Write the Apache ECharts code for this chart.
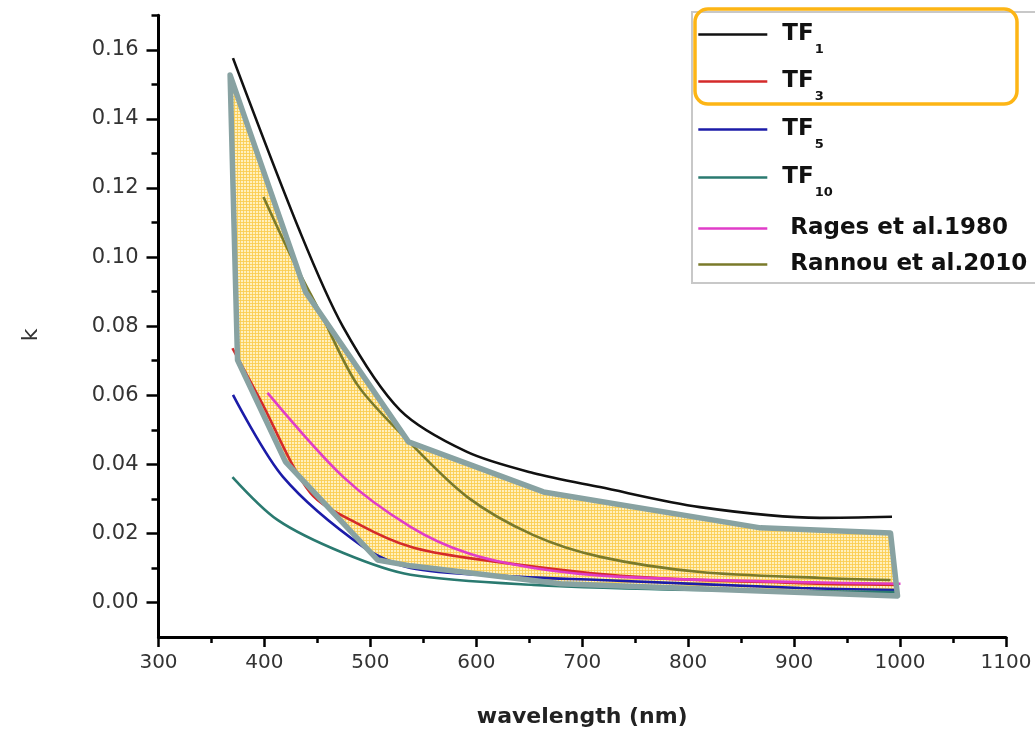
<!DOCTYPE html>
<html>
<head>
<meta charset="utf-8">
<script src="https://cdn.jsdelivr.net/npm/echarts@6/dist/echarts.min.js"></script>
<style>
html,body{margin:0;padding:0;background:#fff;}
#chart{width:1035px;height:730px;}
</style>
</head>
<body>
<div id="chart"></div>
<script>
// ---- data ----
const seriesNames = ['TF1', 'TF3', 'TF5', 'TF10', 'Rages et al.1980', 'Rannou et al.2010'];

const tf1Wavelength = [370.3, 433.6, 474.2, 528.0, 591.2, 653.5, 716.7, 811.1, 924.4, 992.4];
const tf1K          = [0.1576, 0.1073, 0.0798, 0.0557, 0.0436, 0.0375, 0.0334, 0.0276, 0.0245, 0.0248];

const tf3Wavelength = [369.8, 396.2, 443.4, 490.6, 537.9, 591.6, 736.1, 906.0, 998.5];
const tf3K          = [0.0736, 0.0586, 0.0317, 0.0224, 0.0161, 0.0129, 0.0077, 0.0056, 0.0051];

const tf5Wavelength = [370.3, 417.7, 493.2, 537.9, 622.8, 716.7, 906.0, 998.5];
const tf5K          = [0.0601, 0.0363, 0.0161, 0.0100, 0.0077, 0.0065, 0.0042, 0.0036];

const tf10Wavelength = [369.8, 412.3, 474.6, 537.9, 653.9, 811.1, 998.5];
const tf10K          = [0.0363, 0.0239, 0.0143, 0.0080, 0.0051, 0.0036, 0.0030];

const ragesWavelength = [402.9, 474.6, 537.9, 591.6, 653.9, 736.1, 906.0, 1000.4];
const ragesK          = [0.0607, 0.0363, 0.0219, 0.0143, 0.0100, 0.0074, 0.0059, 0.0054];

const rannouWavelength = [399.1, 424.6, 452.9, 487.8, 535.0, 591.6, 653.9, 717.2, 811.6, 924.9, 991.0];
const rannouK          = [0.1174, 0.1006, 0.0838, 0.0630, 0.0470, 0.0305, 0.0195, 0.0132, 0.0088, 0.0071, 0.0065];

// highlighted envelope polygon
const polyWavelength = [367.6, 438.8, 536.0, 663.4, 868.3, 991.0, 997.6, 679.5, 537.9, 506.8, 419.9, 374.6];
const polyK          = [0.1527, 0.0899, 0.0465, 0.0320, 0.0216, 0.0201, 0.0019, 0.0054, 0.0106, 0.0123, 0.0407, 0.0702];

const yMajorTicks = [0, 0.02, 0.04, 0.06, 0.08, 0.10, 0.12, 0.14, 0.16];
const yMinorTicks = [0.01, 0.03, 0.05, 0.07, 0.09, 0.11, 0.13, 0.15, 0.17];

// ---- styling ----
const colors = ['#111111', '#d42a2a', '#1c1ca8', '#2a7a70', '#e03cc8', '#7a7a2a'];
const legendColors = ['#111111', '#b8283a', '#2020a0', '#306860', '#d040c0', '#6a7040'];
const allX = [tf1Wavelength, tf3Wavelength, tf5Wavelength, tf10Wavelength, ragesWavelength, rannouWavelength];
const allY = [tf1K, tf3K, tf5K, tf10K, ragesK, rannouK];

// hatch pattern
const pc = document.createElement('canvas');
pc.width = 3; pc.height = 3;
const pctx = pc.getContext('2d');
pctx.fillStyle = 'rgba(255,240,190,1)';
pctx.fillRect(0, 0, 3, 3);
pctx.fillStyle = 'rgba(250,205,80,0.85)';
pctx.fillRect(0, 0, 3, 1);
pctx.fillRect(0, 0, 1, 3);
const hatch = { image: pc, repeat: 'repeat' };

const chart = echarts.init(document.getElementById('chart'));

const lineSeries = seriesNames.map((name, i) => ({
  name: name,
  type: 'line',
  data: allX[i].map((x, j) => [x, allY[i][j]]),
  symbol: 'none',
  showSymbol: false,
  smooth: 0.3,
  color: legendColors[i],
  lineStyle: { color: colors[i], width: 2.6 },
  z: 3
}));

const legendLineY = [34, 81, 129, 177, 227, 263];
const legends = seriesNames.map((name, i) => {
  const isTF = name.startsWith('TF');
  return {
    data: [name],
    orient: 'vertical',
    left: 697,
    top: legendLineY[i] - (isTF ? 21 : 10),
    padding: 0,
    itemWidth: 69,
    itemHeight: 14,
    selectedMode: false,
    itemStyle: { opacity: 0 },
    lineStyle: { width: 2.6 },
    formatter: n => n.startsWith('TF') ? 'TF{s|' + n.slice(2) + '}' : ' ' + n,
    textStyle: {
      fontFamily: 'DejaVu Sans',
      fontWeight: 'bold',
      fontSize: 23,
      color: '#111',
      padding: [0, 0, 0, 10],
      rich: {
        s: { fontFamily: 'DejaVu Sans', fontWeight: 'bold', fontSize: 13, lineHeight: 13, padding: [30, 0, 0, 1], color: '#111' }
      }
    }
  };
});

const polyData = polyWavelength.map((x, i) => [x, polyK[i]]);
function polyRenderer(fill, stroke) {
  return (params, api) => {
    if (params.dataIndex !== 0) return null;
    const pts = polyWavelength.map((x, i) => api.coord([x, polyK[i]]));
    return {
      type: 'polygon',
      shape: { points: pts },
      style: stroke
        ? { fill: 'none', stroke: '#88a2a2', lineWidth: 5.5, lineJoin: 'round' }
        : { fill: fill }
    };
  };
}

const option = {
  animation: false,
  backgroundColor: '#ffffff',
  grid: { left: 158.5, right: 29, top: 15.3, bottom: 93, containLabel: false, outerBoundsMode: 'none' },
  legend: legends,
  xAxis: {
    type: 'value',
    min: 300, max: 1100, interval: 100,
    name: 'wavelength (nm)',
    nameLocation: 'middle',
    nameGap: 69,
    nameTextStyle: { fontFamily: 'DejaVu Sans', fontWeight: 'bold', fontSize: 22, color: '#222' },
    axisLine: { onZero: false, lineStyle: { color: '#000', width: 3 } },
    axisTick: { length: 10, lineStyle: { color: '#000', width: 2.5 } },
    minorTick: { show: true, splitNumber: 2, length: 6, lineStyle: { color: '#000', width: 2.5 } },
    axisLabel: { margin: 16, fontFamily: 'DejaVu Sans', fontSize: 20, color: '#333', formatter: v => String(v) },
    splitLine: { show: false }
  },
  yAxis: [
    {
      type: 'value',
      min: -0.01, max: 0.17,
      axisLine: { onZero: false, lineStyle: { color: '#000', width: 3 } },
      axisTick: { customValues: yMajorTicks, length: 12, lineStyle: { color: '#000', width: 2.5 } },
      axisLabel: { customValues: yMajorTicks, margin: 20, fontFamily: 'DejaVu Sans', fontSize: 21, color: '#333',
                   formatter: v => v.toFixed(2) },
      splitLine: { show: false }
    },
    {
      type: 'value',
      min: -0.01, max: 0.17,
      position: 'left',
      axisLine: { show: false },
      axisTick: { customValues: yMinorTicks, length: 7, lineStyle: { color: '#000', width: 2.5 } },
      axisLabel: { show: false },
      splitLine: { show: false }
    }
  ],
  series: [{
    name: 'envelope-fill',
    type: 'custom',
    data: polyData,
    encode: { x: 0, y: 1 },
    z: 1,
    renderItem: polyRenderer(hatch, false)
  }].concat(lineSeries).concat([{
    name: 'envelope-border',
    type: 'custom',
    data: polyData,
    encode: { x: 0, y: 1 },
    z: 5,
    renderItem: polyRenderer(null, true)
  }]),
  graphic: [
    { type: 'text', x: 31, y: 335, rotation: Math.PI / 2,
      style: { text: 'k', fontFamily: 'DejaVu Sans', fontSize: 22, fill: '#333', align: 'center', verticalAlign: 'middle' } },
    { type: 'rect', z: 0, shape: { x: 692, y: 12, width: 400, height: 271 },
      style: { fill: 'none', stroke: '#c8c8c8', lineWidth: 2 } },
    { type: 'rect', z: 100, shape: { x: 695, y: 9, width: 322, height: 95, r: 13 },
      style: { fill: 'none', stroke: '#fdb515', lineWidth: 3.5 } }
  ]
};
chart.setOption(option);
</script>
</body>
</html>
